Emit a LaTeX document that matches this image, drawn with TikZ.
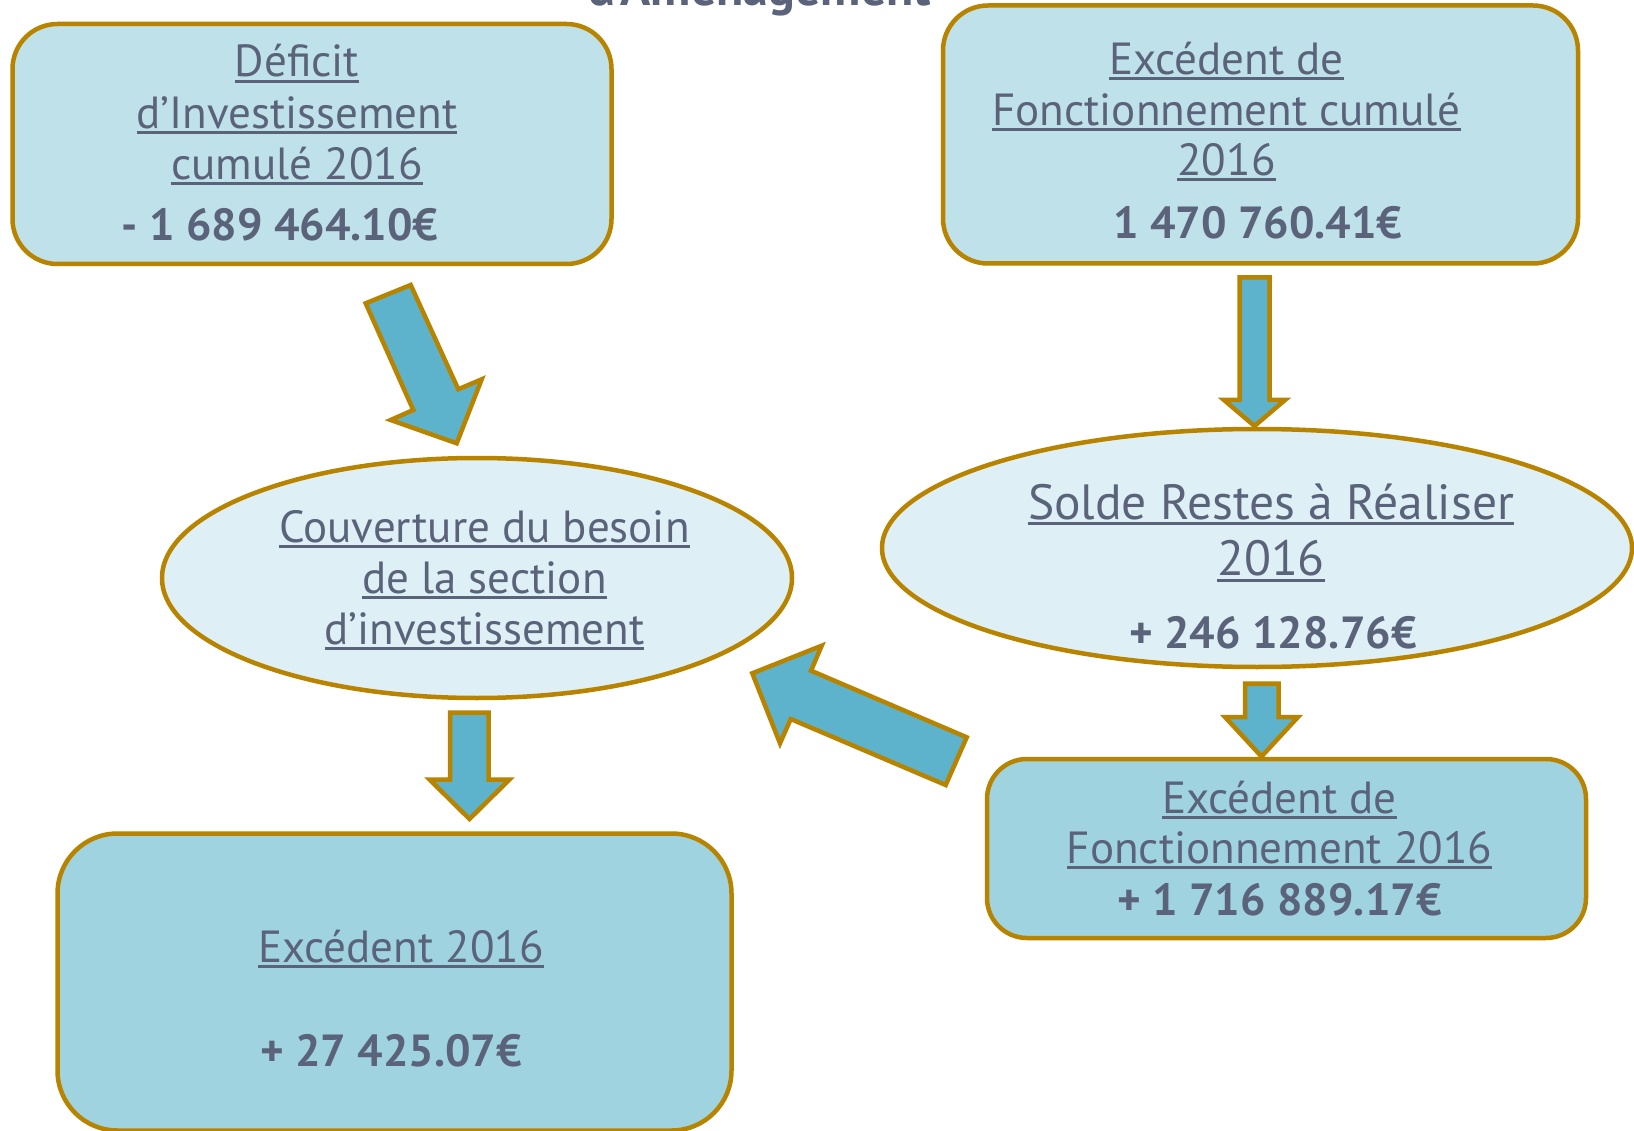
\documentclass[tikz,border=0pt]{standalone}
\usepackage{fontspec}
\setmainfont{PT Sans}
\usetikzlibrary{shapes.geometric}
\definecolor{bord}{RGB}{184,132,0}
\definecolor{arrfill}{RGB}{94,179,204}
\definecolor{txt}{RGB}{90,99,122}
\definecolor{boxa}{RGB}{191,225,234}
\definecolor{boxb}{RGB}{160,211,224}
\definecolor{ellfill}{RGB}{222,240,245}
\newcommand\myul[1]{\leavevmode\setbox0\hbox{#1}\rlap{\rule[-6pt]{\wd0}{3pt}}\box0}
\begin{document}
\begin{tikzpicture}[x=1pt,y=-1pt,
  rbox/.style={draw=bord, line width=4.5pt, rounded corners=45pt, inner sep=0pt, outer sep=0pt, rectangle},
  ellbox/.style={draw=bord, fill=ellfill, line width=4.5pt, ellipse, inner sep=0pt, outer sep=0pt},
  barrow/.style={draw=bord, fill=arrfill, line width=4.5pt, line join=miter},
  lbl/.style={anchor=base, text=txt, inner sep=0pt, font=\fontsize{45}{54}\selectfont},
  amt/.style={anchor=base, text=txt, inner sep=0pt, font=\fontsize{45}{54}\selectfont\bfseries},
  big/.style={anchor=base, text=txt, inner sep=0pt, font=\fontsize{49.5}{56}\selectfont},
  bigamt/.style={anchor=base, text=txt, inner sep=0pt, font=\fontsize{45}{56}\selectfont\bfseries}]
\useasboundingbox (0,0) rectangle (1634,1131);
\clip (0,0) rectangle (1634,1131);
\fill[white] (0,0) rectangle (1634,1131);

% title (cut off at the top in the reference)
\node[anchor=base, text=txt, inner sep=0pt, font=\fontsize{50}{56}\selectfont\bfseries] (title) at (760,6) {d’Aménagement};

% shapes
\node[rbox, fill=boxa, minimum width=599pt, minimum height=240pt] (deficit) at (312,144) {};
\node[rbox, fill=boxa, minimum width=635pt, minimum height=258pt] (excfc) at (1260.5,134.5) {};
\node[ellbox, minimum width=630pt, minimum height=240pt] (couv) at (477,578) {};
\node[ellbox, minimum width=750pt, minimum height=238pt] (solde) at (1257,548) {};
\node[rbox, fill=boxb, rounded corners=40pt, minimum width=599pt, minimum height=179pt] (excf) at (1286.5,848.5) {};
\node[rbox, fill=boxb, rounded corners=60pt, minimum width=674pt, minimum height=297pt] (exc) at (394.5,982) {};

% texts
\node[lbl] (t1a) at (297,77) {\myul{Déficit}};
\node[lbl] (t1b) at (297,128.5) {\myul{d’Investissement}};
\node[lbl] (t1c) at (297,179.5) {\myul{cumulé 2016}};
\node[amt] (t1d) at (280,241) {- 1 689 464.10€};

\node[lbl] (t2a) at (1226.5,74.5) {\myul{Excédent de}};
\node[lbl] (t2b) at (1226.5,125.5) {\myul{Fonctionnement cumulé}};
\node[lbl] (t2c) at (1226.5,175.5) {\myul{2016}};
\node[amt] (t2d) at (1258,239) {1 470 760.41€};

\node[lbl] (t3a) at (484.5,542) {\myul{Couverture du besoin}};
\node[lbl] (t3b) at (484.5,593) {\myul{de la section}};
\node[lbl] (t3c) at (484.5,644) {\myul{d’investissement}};

\node[big] (t4a) at (1271,519) {\myul{Solde Restes à Réaliser}};
\node[big] (t4b) at (1271,575.5) {\myul{2016}};
\node[bigamt] (t4c) at (1273,648) {+ 246 128.76€};

\node[lbl] (t5a) at (1279.5,813) {\myul{Excédent de}};
\node[lbl] (t5b) at (1279.5,863) {\myul{Fonctionnement 2016}};
\node[amt] (t5c) at (1279.5,915) {+ 1 716 889.17€};

\node[lbl] (t6a) at (401,962) {\myul{Excédent 2016}};
\node[amt] (t6b) at (391,1066) {+ 27 425.07€};

% block arrows
\draw[barrow] (365.7,303.3) -- (410.7,285) -- (458.3,389.3) -- (481.7,379.3) -- (456.7,443.3) -- (390.7,420) -- (413.3,410) -- cycle;
\draw[barrow] (1239.5,277.5) -- (1269.5,277.5) -- (1269.5,400) -- (1285,400) -- (1254.5,426) -- (1224,400) -- (1239.5,400) -- cycle;
\draw[barrow] (1245,683.5) -- (1278.5,683.5) -- (1278.5,717) -- (1298,717) -- (1261.5,756.5) -- (1225,717) -- (1245,717) -- cycle;
\draw[barrow] (450,712.5) -- (488.5,712.5) -- (488.5,779.5) -- (509.5,779.5) -- (469.5,819) -- (429.5,779.5) -- (450,779.5) -- cycle;
\draw[barrow] (752.3,673.3) -- (821.7,645.7) -- (811,670.7) -- (966.7,737.3) -- (945.7,785) -- (790.7,719) -- (780,743.3) -- cycle;
\end{tikzpicture}
\end{document}
